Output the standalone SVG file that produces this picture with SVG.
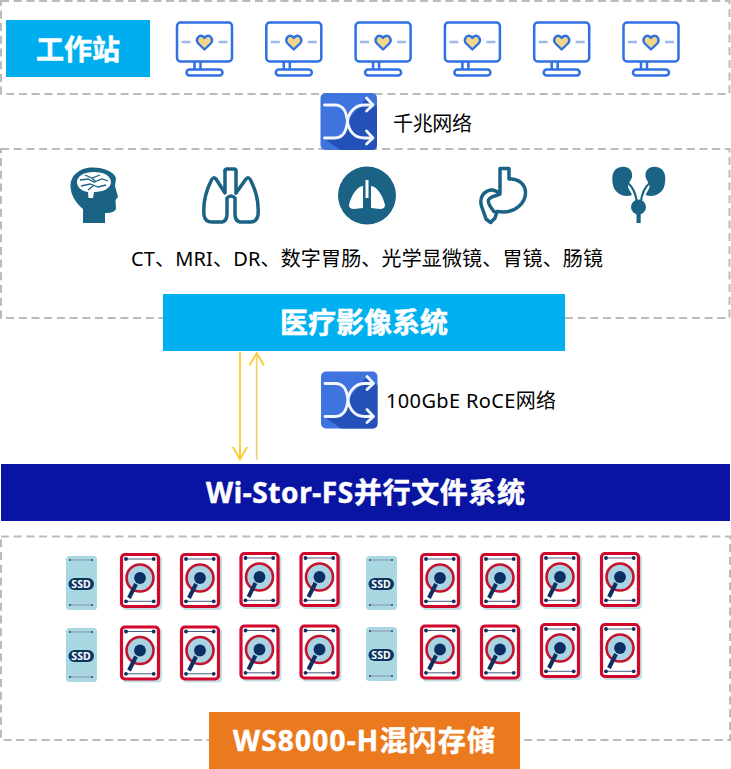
<svg xmlns="http://www.w3.org/2000/svg" xmlns:xlink="http://www.w3.org/1999/xlink" width="731" height="769" viewBox="0 0 731 769">
<style>
text{font-family:"Noto Sans","Noto Sans CJK SC","Liberation Sans",sans-serif}
.zone{fill:none;stroke:#bbb;stroke-width:2;stroke-dasharray:8 4.7}
.title{font-size:28px;font-weight:700;fill:#fff;stroke:#fff;stroke-width:.5;text-anchor:middle;dominant-baseline:central}
.label{font-size:20px;fill:#000;dominant-baseline:central}
.ssd{font-size:10.500px;font-weight:700;fill:#fff;text-anchor:middle;dominant-baseline:central}
.teal{fill:#1a6385}
.tealline{fill:none;stroke:#1a6385;stroke-width:3.500;stroke-linejoin:round;stroke-linecap:round}
.conn{fill:none;stroke-width:1.800}
</style>
<defs>
<symbol id="monitor" width="58" height="56" viewBox="0 0 58 56" overflow="visible">
<rect x="1.500" y="1.500" width="55" height="39" rx="3.500" fill="#fff" stroke="#2f70e2" stroke-width="2.500"/>
<path d="M19,41V49M25,41V49" fill="none" stroke="#2f70e2" stroke-width="2.500"/>
<rect x="11" y="48.500" width="36" height="6" rx="3" fill="#fff" stroke="#2f70e2" stroke-width="2.500"/>
<path d="M6,21h9M43,21h9" stroke="#9db9ec" stroke-width="2.500"/>
<path d="M29,28.500L22.800,22.500C19.500,18.500 23,14 26.500,15C27.800,15.300 28.500,16 29,17C29.500,16 30.200,15.300 31.500,15C35,14 38.500,18.500 35.200,22.500Z" fill="#f3d68a" stroke="#2f70e2" stroke-width="2.400" stroke-linejoin="round"/>
</symbol>
<symbol id="switch" width="57" height="57" viewBox="0 0 57 57" overflow="visible">
<rect width="56.500" height="57" rx="5" fill="#3f74de"/>
<path d="M30,24L46,5L56.500,14V52Q56.500,57 51.500,57H20L4,46L14,45Q22,45 26,36Z" fill="#2451b7"/>
<g fill="none" stroke="#f2f7ff" stroke-width="2.800" stroke-linecap="round" stroke-linejoin="round">
<path d="M4,12H14C26,12 26,24 27,28C28,38 34,45 44,45H52"/>
<path d="M4,45H14C24,45 26,36 27,28C28,20 34,12 44,12H52"/>
<path d="M46,5L52.500,12L46,18M46,38L52.500,45L46,51"/>
</g>
</symbol>
<symbol id="hdd" width="42" height="57" viewBox="0 0 42 57" overflow="visible">
<rect x="2.500" y="2.500" width="39.500" height="54.500" rx="4" fill="#c5dfe6"/>
<rect x="1.500" y="1.500" width="37" height="52" rx="3.500" fill="#fff" stroke="#d0082c" stroke-width="3.200"/>
<path d="M6,6H33.700M6,48.300H33.700" stroke="#4a5f80" stroke-width="1"/>
<g fill="#0e2f5f"><circle cx="6" cy="6" r="1.900"/><circle cx="33.700" cy="6" r="1.900"/><circle cx="6" cy="48.300" r="1.900"/><circle cx="33.700" cy="48.300" r="1.900"/></g>
<circle cx="20" cy="25" r="13.500" fill="#a9d4e3" stroke="#c4122f" stroke-width="2.600"/>
<circle cx="20" cy="25" r="5.900" fill="#0b2f63"/>
<path d="M16,31L9,45" stroke="#0e2f5f" stroke-width="4"/>
</symbol>
<symbol id="ssdcase" width="31" height="54" viewBox="0 0 31 54" overflow="visible">
<rect width="31" height="54" rx="3.500" fill="#a9d8e2"/>
<path d="M4,4H26M4,49H26" stroke="#8a8fa5" stroke-width="1"/>
<g fill="#24496f"><circle cx="4" cy="4" r="1"/><circle cx="26" cy="4" r="1"/><circle cx="4" cy="49" r="1"/><circle cx="26" cy="49" r="1"/></g>
<rect x="2.500" y="22" width="25.500" height="12" rx="6" fill="#0e3560"/>
</symbol>
</defs>

<g id="zones">
<rect class="zone" x="1" y="1" width="728.500" height="93"/>
<rect class="zone" x="1" y="149" width="728.500" height="169"/>
<rect class="zone" x="1" y="536.500" width="729" height="203.500"/>
</g>

<g id="workstations">
<rect x="6" y="20" width="144" height="57" fill="#00aeef"/>
<text class="title" x="78" y="48.500" textLength="84">工作站</text>
<use href="#monitor" x="175.500" y="21"/>
<use href="#monitor" x="264.800" y="21"/>
<use href="#monitor" x="354.100" y="21"/>
<use href="#monitor" x="443.400" y="21"/>
<use href="#monitor" x="532.700" y="21"/>
<use href="#monitor" x="622" y="21"/>
</g>

<g id="gigabit-switch">
<use href="#switch" x="320.500" y="93"/>
<text class="label" x="393" y="123" textLength="79">千兆网络</text>
</g>

<g id="modalities">
<g id="icon-head">
<path class="teal" d="M83,223V209C76,203 70.500,195 70.500,186C70.500,175 80,167.500 93,167.500C104,167.500 114,172 116,178L115,186L118,197L115.500,200L116,209C114,213 108,213 105,213V223Z"/>
<path d="M94,172C104,172 111,176 111,182C111,188 104,192 94,192L93,198H88.500L88,192C81,191 77,187 77,182C77,176 84,172 94,172Z" fill="#fff"/>
<path d="M85,175L92,178L100,175M80,180L88,179L94,182L102,179L108,181M81,186L90,184L98,187L106,185M92,178L96,182M88,190L93,186" fill="none" stroke="#1a6385" stroke-width="1.300"/>
</g>
<g id="icon-lungs" class="tealline">
<path d="M225,171Q225,169 227,169H234Q236,169 236,171V193"/>
<path d="M225,171V193L216,179Q213,176 211,181C205,193 203,203 204,215Q205,222 212,222H222Q227,221 227,214V198Q231,194 235,198V214Q235,221 240,222H250Q257,222 258,215C259,203 257,193 251,181Q249,176 246,179L236,193"/>
</g>
<g id="icon-lung-circle">
<circle class="teal" cx="367" cy="195.500" r="29"/>
<path d="M365.500,180h3v18h-3ZM363,186C357,186 351,196 349,205Q349,209 354,209L363,208ZM371,186C377,186 383,196 385,205Q385,209 380,209L371,208Z" fill="#fff"/>
</g>
<g id="icon-stomach">
<path class="tealline" d="M500.500,168.500H509V179C518,178 525,184 525.500,192C526,204 514,212 504,212L497,211.500L495,218L490.700,222.500L486,219L481.500,206C479,197 484,191 491,190C495,189.500 497,191 500,194V168.500ZM500,194C498,196 491,195 488.500,200C487.500,204 491,208 494,211.500"/>
</g>
<g id="icon-kidneys">
<path class="teal" d="M621,167C629,166 633,171 632,177C631,181 628,183 628,186C628,189 631,192 632,195C624,198 615,194 613,185C611,176 613,168 621,167Z"/>
<path class="teal" d="M656.600,167C648.600,166 644.600,171 645.600,177C646.600,181 649.600,183 649.600,186C649.600,189 646.600,192 645.600,195C653.600,198 662.600,194 664.600,185C666.600,176 664.600,168 656.600,167Z"/>
<path d="M628,183C634,188 636,195 637,203M649.600,183C643.600,188 641.600,195 640.600,203" fill="none" stroke="#1a6385" stroke-width="2.200"/>
<circle class="teal" cx="638.500" cy="207" r="7.500"/>
<rect class="teal" x="636.500" y="210" width="4.200" height="13"/>
</g>
<text class="label" x="131" y="258" textLength="472">CT、MRI、DR、数字胃肠、光学显微镜、胃镜、肠镜</text>
</g>

<g id="medical-imaging-system">
<rect x="163" y="294" width="402" height="57" fill="#00b0f0"/>
<text class="title" x="364" y="322" textLength="168">医疗影像系统</text>
</g>

<g id="connectors">
<path class="conn" stroke="#ffc82e" d="M240,352V459M233,447L240,459.500L247,447"/>
<path class="conn" stroke="#f2d377" d="M256.700,460V353"/>
<path class="conn" stroke="#ffc82e" d="M249.500,365.500L256.700,353L264,365.500"/>
</g>

<g id="roce-switch">
<use href="#switch" x="321" y="371.500"/>
<text class="label" x="386" y="400" textLength="170">100GbE RoCE网络</text>
</g>

<g id="wi-stor-fs">
<rect x="1" y="464" width="729" height="57" fill="#0a14a2"/>
<text class="title" x="365.500" y="491.500" textLength="319">Wi-Stor-FS并行文件系统</text>
</g>

<g id="storage-drives">
<g id="ssd-1"><use href="#ssdcase" x="66" y="556"/><text class="ssd" x="81" y="584">SSD</text></g>
<g id="ssd-2"><use href="#ssdcase" x="366" y="556"/><text class="ssd" x="381" y="584">SSD</text></g>
<g id="ssd-3"><use href="#ssdcase" x="66" y="628"/><text class="ssd" x="81" y="656">SSD</text></g>
<g id="ssd-4"><use href="#ssdcase" x="366" y="627"/><text class="ssd" x="381" y="655">SSD</text></g>
<use href="#hdd" x="120" y="553"/>
<use href="#hdd" x="180" y="553"/>
<use href="#hdd" x="239.500" y="552"/>
<use href="#hdd" x="299.500" y="552"/>
<use href="#hdd" x="420" y="553"/>
<use href="#hdd" x="480" y="553"/>
<use href="#hdd" x="540" y="552"/>
<use href="#hdd" x="600" y="552"/>
<use href="#hdd" x="120" y="625.500"/>
<use href="#hdd" x="180" y="625.500"/>
<use href="#hdd" x="239.500" y="624.500"/>
<use href="#hdd" x="299.500" y="624.500"/>
<use href="#hdd" x="420" y="624.500"/>
<use href="#hdd" x="480" y="624.500"/>
<use href="#hdd" x="540" y="623"/>
<use href="#hdd" x="600" y="623"/>
</g>

<g id="ws8000-h">
<rect x="209" y="712" width="311" height="57" fill="#eb7a1e"/>
<text class="title" x="364" y="740" textLength="262">WS8000-H混闪存储</text>
</g>
</svg>
